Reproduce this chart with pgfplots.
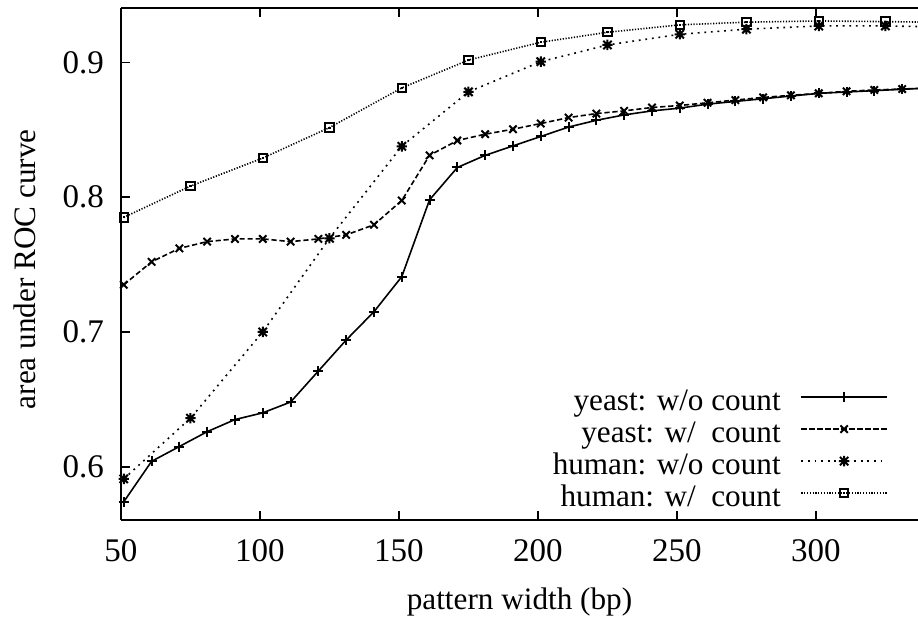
\documentclass[border=0pt]{standalone}
\usepackage{fontspec}
\setmainfont{Liberation Serif}
\usepackage{pgfplots}
\pgfplotsset{compat=1.18}

% gnuplot style point types: "*" (plus and cross) and a box with a dot
\pgfdeclareplotmark{gpstar}{%
  \pgfpathmoveto{\pgfqpoint{-\pgfplotmarksize}{0pt}}%
  \pgfpathlineto{\pgfqpoint{\pgfplotmarksize}{0pt}}%
  \pgfpathmoveto{\pgfqpoint{0pt}{-\pgfplotmarksize}}%
  \pgfpathlineto{\pgfqpoint{0pt}{\pgfplotmarksize}}%
  \pgfpathmoveto{\pgfqpoint{-.8\pgfplotmarksize}{-.8\pgfplotmarksize}}%
  \pgfpathlineto{\pgfqpoint{.8\pgfplotmarksize}{.8\pgfplotmarksize}}%
  \pgfpathmoveto{\pgfqpoint{-.8\pgfplotmarksize}{.8\pgfplotmarksize}}%
  \pgfpathlineto{\pgfqpoint{.8\pgfplotmarksize}{-.8\pgfplotmarksize}}%
  \pgfusepathqstroke}
\pgfdeclareplotmark{gpbox}{%
  \pgfpathrectangle{\pgfqpoint{-\pgfplotmarksize}{-\pgfplotmarksize}}{\pgfqpoint{2\pgfplotmarksize}{2\pgfplotmarksize}}%
  \pgfusepathqstroke
  \pgfpathrectangle{\pgfqpoint{-.25\pgfplotmarksize}{-.25\pgfplotmarksize}}{\pgfqpoint{.5\pgfplotmarksize}{.5\pgfplotmarksize}}%
  \pgfusepathqfill}

\pgfplotstableread{
x y
51 0.574
61 0.604
71 0.615
81 0.626
91 0.635
101 0.640
111 0.648
121 0.671
131 0.694
141 0.715
151 0.741
161 0.798
171 0.822
181 0.831
191 0.838
201 0.845
211 0.852
221 0.857
231 0.861
241 0.864
251 0.866
261 0.869
271 0.871
281 0.873
291 0.875
301 0.877
311 0.878
321 0.879
331 0.880
341 0.881
}\yeastwo

\pgfplotstableread{
x y
51 0.735
61 0.752
71 0.762
81 0.767
91 0.769
101 0.769
111 0.767
121 0.769
131 0.772
141 0.7795
151 0.7975
161 0.831
171 0.842
181 0.8467
191 0.8504
201 0.8546
211 0.859
221 0.862
231 0.864
241 0.8665
251 0.868
261 0.870
271 0.872
281 0.874
291 0.8755
301 0.877
311 0.8785
321 0.8795
331 0.8802
341 0.881
}\yeastw

\pgfplotstableread{
x y
51 0.591
75 0.636
101 0.700
125 0.7695
151 0.8377
175 0.8781
201 0.9005
225 0.9129
251 0.9208
275 0.9246
301 0.927
325 0.927
351 0.926
}\humanwo

\pgfplotstableread{
x y
51 0.785
75 0.8082
101 0.829
125 0.8516
151 0.881
175 0.9017
201 0.9149
225 0.9223
251 0.9278
275 0.9298
301 0.9307
325 0.9302
351 0.9295
}\humanw

\begin{document}
\begin{tikzpicture}
\begin{axis}[
    scale only axis, width=398.5pt, height=255.85pt,
    xmin=50, xmax=336.7, ymin=0.5605, ymax=0.9401,
    axis y line*=left, axis x line*=box,
    xtick={50,100,...,300}, ytick={0.6,0.7,0.8,0.9},
    minor tick num=0,
    tick align=inside, major tick length=4.5pt,
    axis line style={line width=0.8pt},
    every tick/.style={black, line width=0.8pt},
    font=\fontsize{15.6}{18}\selectfont,
    tick label style={font=\fontsize{16.5}{19}\selectfont},
    /pgf/number format/assume math mode=true,
    yticklabel style={/pgf/number format/fixed, /pgf/number format/precision=1,
      /pgf/number format/fixed zerofill, xshift=-5pt},
    xticklabel style={yshift=-6pt},
    xlabel={pattern width (bp)}, ylabel={area under ROC curve},
    xlabel style={at={(axis description cs:0.5,-0.16)}, anchor=center},
    ylabel style={at={(axis description cs:-0.1205,0.49)}, anchor=center},
    legend style={draw=none, fill=none, at={(0.9624,0.2585)}, anchor=north east,
      inner sep=0pt, nodes={inner sep=0pt, text height=11pt, text depth=5pt},
      /tikz/column sep=10pt, /tikz/row sep=0pt},
    legend cell align=right, legend plot pos=right,
    legend image code/.code={\draw[mark repeat=2,mark phase=2]
      plot coordinates {(0cm,3.5pt) (0.75cm,3.5pt) (1.5cm,3.5pt)};},
  ]
  \addplot[black, line width=0.8pt, mark=+, mark size=2.5pt, mark options={solid, line width=1pt}]
    table {\yeastwo};
  \addlegendentry{yeast: w/o count}
  \addplot[black, line width=0.8pt, dash pattern=on 2.6pt off 1.4pt,
    mark=x, mark size=2.6pt, mark options={solid, line width=1pt}]
    table {\yeastw};
  \addlegendentry{yeast: w/\ \ count}
  \addplot[black, line width=0.8pt, dash pattern=on 0.9pt off 2.4pt,
    mark=gpstar, mark size=2.6pt, mark options={solid, line width=1pt}]
    table {\humanwo};
  \addlegendentry{human: w/o count}
  \addplot[black, line width=0.8pt, dash pattern=on 0.6pt off 0.8pt,
    mark=gpbox, mark size=2.1pt, mark options={solid, line width=1pt}]
    table {\humanw};
  \addlegendentry{human: w/\ \ count}
\end{axis}
\pgfresetboundingbox
\path[use as bounding box] (-60.5pt,-50pt) rectangle (398.5pt,260pt);
\end{tikzpicture}
\end{document}
